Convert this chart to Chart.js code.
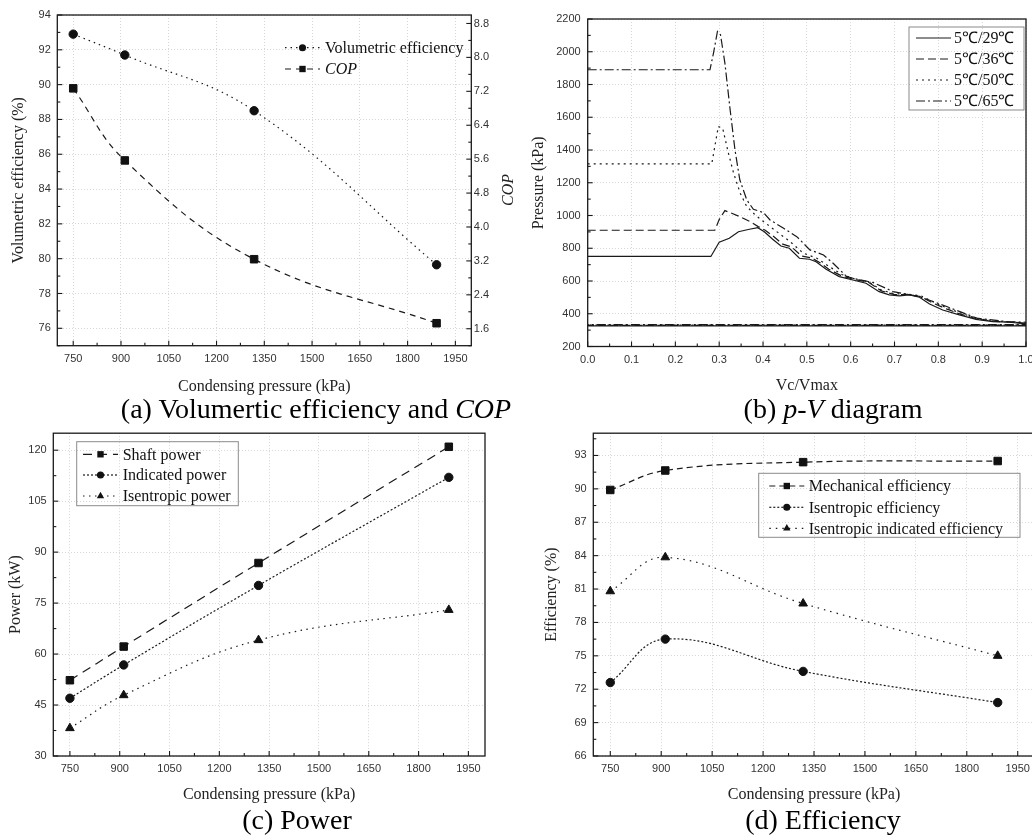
<!DOCTYPE html>
<html lang="en">
<head>
<meta charset="UTF-8">
<title>Compressor performance</title>
<script src="https://cdn.jsdelivr.net/npm/chart.js@4.4.0/dist/chart.umd.min.js"></script>
<style>
  html, body { margin: 0; padding: 0; background: #fff; overflow: hidden; }
  #fig { position: relative; width: 1032px; height: 837px; overflow: hidden; background: #fff; }
  canvas { position: absolute; }
  .cap { position: absolute; font-family: "Liberation Serif", "Times New Roman", serif; font-size: 28px;
         line-height: 28px; white-space: nowrap; transform: translateX(-50%); color: #000; }
</style>
</head>
<body>
<div id="fig">
  <canvas id="chartA"></canvas>
  <canvas id="chartB"></canvas>
  <canvas id="chartC"></canvas>
  <canvas id="chartD"></canvas>
  <div class="cap" style="left:316px;top:395px">(a) Volumertic efficiency and <i>COP</i></div>
  <div class="cap" style="left:833px;top:395px">(b) <i>p-V</i> diagram</div>
  <div class="cap" style="left:297px;top:806px">(c) Power</div>
  <div class="cap" style="left:823px;top:806px">(d) Efficiency</div>
</div>

<script>
// condensing pressure of the four operating points (kPa)
const condPressure = [750, 912, 1318, 1891];

// (a)
const volEff = [92.9, 91.7, 88.5, 79.65];
const cop = [7.27, 5.57, 3.24, 1.73];

// (c)
const shaftPower = [52.3, 62.2, 86.8, 121.0];
const indicatedPower = [47.0, 56.8, 80.2, 112.0];
const isentropicPower = [38.2, 47.9, 64.1, 73.0];

// (d)
const mechEff = [89.9, 91.65, 92.4, 92.5];
const isenEff = [72.6, 76.5, 73.6, 70.8];
const isenIndEff = [80.8, 83.85, 79.7, 75.0];

// (b) p-V loops: Vc/Vmax and pressure (kPa)
const pv29V = [0, 0.281, 0.292, 0.300, 0.323, 0.344, 0.369, 0.388, 0.403, 0.422, 0.441, 0.460, 0.483, 0.506, 0.521, 0.544, 0.574, 0.605, 0.635, 0.665, 0.688, 0.711, 0.734, 0.757, 0.780, 0.810, 0.848, 0.886, 0.924, 0.962, 0.996, 1.0, 1.0, 0];
const pv29P = [750, 750, 800, 837, 861, 901, 916, 926, 901, 855, 814, 800, 739, 733, 718, 672, 627, 606, 586, 535, 515, 509, 515, 501, 460, 423, 393, 366, 352, 348, 340, 338, 326, 326];
const pv36V = [0, 0.290, 0.300, 0.313, 0.330, 0.347, 0.370, 0.389, 0.405, 0.425, 0.445, 0.465, 0.488, 0.510, 0.530, 0.550, 0.580, 0.610, 0.640, 0.670, 0.700, 0.730, 0.760, 0.790, 0.820, 0.850, 0.890, 0.930, 0.970, 1.0, 1.0, 0];
const pv36P = [910, 910, 975, 1030, 1012, 993, 963, 932, 910, 870, 825, 808, 752, 742, 712, 672, 630, 608, 594, 540, 517, 518, 505, 462, 428, 398, 367, 353, 349, 342, 329, 329];
const pv50V = [0, 0.283, 0.298, 0.308, 0.321, 0.333, 0.348, 0.363, 0.382, 0.401, 0.431, 0.462, 0.492, 0.523, 0.550, 0.580, 0.610, 0.640, 0.670, 0.700, 0.730, 0.760, 0.790, 0.820, 0.850, 0.890, 0.930, 0.970, 1.0, 1.0, 0];
const pv50P = [1315, 1315, 1543, 1533, 1381, 1258, 1136, 1054, 1004, 963, 902, 840, 770, 739, 690, 640, 612, 596, 545, 522, 520, 510, 470, 435, 405, 370, 355, 350, 343, 331, 331];
const pv65V = [0, 0.279, 0.287, 0.296, 0.303, 0.313, 0.325, 0.336, 0.347, 0.363, 0.378, 0.401, 0.416, 0.447, 0.477, 0.507, 0.538, 0.560, 0.591, 0.606, 0.652, 0.697, 0.751, 0.785, 0.819, 0.888, 0.956, 1.0, 1.0, 0];
const pv65P = [1890, 1890, 1992, 2124, 2104, 1931, 1645, 1401, 1218, 1095, 1038, 1018, 973, 922, 871, 790, 759, 708, 627, 616, 590, 535, 508, 478, 444, 373, 352, 348, 333, 333];

// tick labels
const pressureTicks = [750, 900, 1050, 1200, 1350, 1500, 1650, 1800, 1950];
const volEffTicks = [76, 78, 80, 82, 84, 86, 88, 90, 92, 94];
const copTicks = [1.6, 2.4, 3.2, 4.0, 4.8, 5.6, 6.4, 7.2, 8.0, 8.8];
const powerTicks = [30, 45, 60, 75, 90, 105, 120];
const effTicks = [66, 69, 72, 75, 78, 81, 84, 87, 90, 93];
const volRatioTicks = [0, 0.1, 0.2, 0.3, 0.4, 0.5, 0.6, 0.7, 0.8, 0.9, 1.0];
const pvPressureTicks = [200, 400, 600, 800, 1000, 1200, 1400, 1600, 1800, 2000, 2200];

const INK = '#1a1a1a';
const pts = (xs, ys) => xs.map((x, i) => ({ x: x, y: ys[i] }));
const radiusFor = { circle: 4.2, rect: 5.3, triangle: 5 };

function series(label, xs, ys, dash, style, extra) {
  return Object.assign({
    label: label, data: pts(xs, ys), showLine: true,
    borderColor: INK, backgroundColor: INK, borderWidth: 1.2, borderDash: dash,
    pointStyle: style || 'circle', pointRadius: style ? radiusFor[style] : 0,
    pointBackgroundColor: '#111', pointBorderColor: '#111', pointBorderWidth: 1,
    tension: style ? 0.4 : 0
  }, extra || {});
}

function drawMark(ctx, style, x, y, r) {
  ctx.beginPath();
  if (style === 'circle') ctx.arc(x, y, r, 0, Math.PI * 2);
  else if (style === 'rect') { const s = r * Math.SQRT1_2; ctx.rect(x - s, y - s, 2 * s, 2 * s); }
  else { ctx.moveTo(x, y - r); ctx.lineTo(x + r * 0.866, y + r / 2); ctx.lineTo(x - r * 0.866, y + r / 2); ctx.closePath(); }
  ctx.fill();
}

// frame, inward major/minor ticks, legend and extra titles
const decor = {
  id: 'decor',
  afterDraw(chart, args, o) {
    const ctx = chart.ctx, a = chart.chartArea;
    ctx.save();
    ctx.strokeStyle = INK;
    ctx.lineWidth = 1.3;
    ctx.strokeRect(a.left, a.top, a.right - a.left, a.bottom - a.top);
    ctx.lineWidth = 1.1;
    Object.values(chart.scales).forEach(s => {
      const vals = s.ticks.map(t => t.value);
      const step = vals[1] - vals[0];
      const minor = vals.map(v => v - step / 2).concat([vals[vals.length - 1] + step / 2]);
      const tick = (v, len) => {
        if (v < s.min - 1e-9 || v > s.max + 1e-9) return;
        const p = s.getPixelForValue(v);
        ctx.beginPath();
        if (s.axis === 'x') { ctx.moveTo(p, a.bottom); ctx.lineTo(p, a.bottom - len); }
        else if (s.position === 'left') { ctx.moveTo(a.left, p); ctx.lineTo(a.left + len, p); }
        else { ctx.moveTo(a.right, p); ctx.lineTo(a.right - len, p); }
        ctx.stroke();
      };
      vals.forEach(v => tick(v, 5));
      minor.forEach(v => tick(v, 3));
    });

    const lg = o.legend;
    if (lg) {
      if (lg.frame) {
        ctx.strokeStyle = '#8a8a8a';
        ctx.lineWidth = 1;
        ctx.strokeRect(lg.frame[0], lg.frame[1], lg.frame[2], lg.frame[3]);
      }
      chart.data.datasets.forEach((ds, i) => {
        const y = lg.rows[i];
        ctx.strokeStyle = INK;
        ctx.lineWidth = ds.borderWidth;
        ctx.setLineDash(ds.borderDash || []);
        ctx.beginPath();
        ctx.moveTo(lg.x1, y);
        ctx.lineTo(lg.x2, y);
        ctx.stroke();
        ctx.setLineDash([]);
        if (ds.pointRadius > 0) {
          ctx.fillStyle = '#111';
          drawMark(ctx, ds.pointStyle, (lg.x1 + lg.x2) / 2, y, ds.pointRadius * 0.85);
        }
        ctx.fillStyle = '#111';
        ctx.font = (ds.italicLabel ? 'italic ' : '') + '16px "Liberation Serif", serif';
        ctx.textBaseline = 'middle';
        ctx.textAlign = 'left';
        ctx.fillText(ds.label, lg.tx, y + 1);
      });
    }
    if (o.sideTitle) {
      const t = o.sideTitle;
      ctx.translate(t.x, t.y);
      ctx.rotate(-Math.PI / 2);
      ctx.fillStyle = '#222';
      ctx.font = 'italic 16px "Liberation Serif", serif';
      ctx.textAlign = 'center';
      ctx.textBaseline = 'middle';
      ctx.fillText(t.text, 0, 0);
    }
    ctx.restore();
  }
};

function axis(spec, box, area) {
  const s = {
    type: 'linear',
    position: spec.position,
    min: spec.min,
    max: spec.max,
    afterBuildTicks: sc => { sc.ticks = spec.ticks.map(v => ({ value: v })); },
    ticks: {
      autoSkip: false, maxRotation: 0, minRotation: 0, padding: spec.pad,
      color: '#333', font: { family: 'Liberation Sans', size: 11 },
      callback: spec.fmt || (v => v)
    },
    grid: { display: !!spec.grid, drawOnChartArea: !!spec.grid, drawTicks: false, color: '#d6d6d6', lineWidth: 1 },
    border: { display: false, dash: [1, 2] },
    title: { display: false }
  };
  if (spec.position === 'bottom') {
    s.afterFit = sc => { sc.height = box.y + box.h - area.bottom; };
  } else if (spec.position === 'left') {
    s.afterFit = sc => { sc.width = area.left - box.x; };
  } else {
    s.afterFit = sc => { sc.width = box.x + box.w - area.right; };
  }
  if (spec.title) {
    const half = 16 * 1.2 / 2;
    s.title = {
      display: true, text: spec.title, color: '#222',
      font: { family: 'Liberation Serif', size: 16 },
      padding: spec.position === 'bottom'
        ? { top: 0, bottom: box.y + box.h - spec.titleAt - half }
        : { top: spec.titleAt - box.x - half, bottom: 0 }
    };
  }
  return s;
}

function makeChart(id, box, area, datasets, specs, legend, sideTitle) {
  const cv = document.getElementById(id);
  cv.width = box.w;
  cv.height = box.h;
  cv.style.left = box.x + 'px';
  cv.style.top = box.y + 'px';
  const scales = {};
  Object.keys(specs).forEach(k => { scales[k] = axis(specs[k], box, area); });
  const hasRight = Object.values(specs).some(sp => sp.position === 'right');
  // legend given in page coordinates, shift to canvas
  const lg = legend && {
    frame: legend.frame && [legend.frame[0] - box.x, legend.frame[1] - box.y, legend.frame[2], legend.frame[3]],
    rows: legend.rows.map(r => r - box.y),
    x1: legend.x1 - box.x, x2: legend.x2 - box.x, tx: legend.tx - box.x
  };
  const st = sideTitle && { text: sideTitle.text, x: sideTitle.x - box.x, y: sideTitle.y - box.y };
  return new Chart(cv, {
    type: 'scatter',
    data: { datasets: datasets },
    options: {
      responsive: false,
      animation: false,
      devicePixelRatio: 1,
      layout: { padding: { top: area.top - box.y, left: 0, bottom: 0, right: hasRight ? 0 : box.x + box.w - area.right } },
      scales: scales,
      plugins: {
        legend: { display: false },
        tooltip: { enabled: false },
        decor: { legend: lg, sideTitle: st }
      }
    },
    plugins: [decor]
  });
}

const fmt1 = v => v.toFixed(1);

// (a) volumetric efficiency and COP
makeChart('chartA', { x: 0, y: 0, w: 525, h: 398 }, { left: 57.3, top: 15, right: 471.3, bottom: 345.7 },
  [
    series('Volumetric efficiency', condPressure, volEff, [1.5, 4], 'circle'),
    series('COP', condPressure, cop, [6, 5], 'rect', { yAxisID: 'y1', italicLabel: true })
  ],
  {
    x: { position: 'bottom', min: 700, max: 2000, ticks: pressureTicks, pad: 6.4, grid: true, title: 'Condensing pressure (kPa)', titleAt: 387 },
    y: { position: 'left', min: 75, max: 94, ticks: volEffTicks, pad: 6.5, grid: true, title: 'Volumetric efficiency (%)', titleAt: 19 },
    y1: { position: 'right', min: 1.2, max: 9.0, ticks: copTicks, pad: 2.5, fmt: fmt1 }
  },
  { rows: [47.7, 69], x1: 285, x2: 320, tx: 325 },
  { text: 'COP', x: 509, y: 190 }
);

// (b) p-V diagram
makeChart('chartB', { x: 516, y: 0, w: 540, h: 398 }, { left: 587.7, top: 19, right: 1026, bottom: 346.5 },
  [
    series('5℃/29℃', pv29V, pv29P, []),
    series('5℃/36℃', pv36V, pv36P, [8, 4]),
    series('5℃/50℃', pv50V, pv50P, [2, 4]),
    series('5℃/65℃', pv65V, pv65P, [9, 3, 2, 3])
  ],
  {
    x: { position: 'bottom', min: 0, max: 1, ticks: volRatioTicks, pad: 6.4, grid: true, fmt: fmt1, title: 'Vc/Vmax', titleAt: 386 },
    y: { position: 'left', min: 200, max: 2200, ticks: pvPressureTicks, pad: 7, grid: true, title: 'Pressure (kPa)', titleAt: 539 }
  },
  { frame: [909, 27, 115, 83], rows: [38, 59, 80, 101], x1: 916, x2: 951, tx: 954 }
);

// (c) power
makeChart('chartC', { x: 0, y: 420, w: 516, h: 400 }, { left: 53.3, top: 428.3, right: 485, bottom: 756 },
  [
    series('Shaft power', condPressure, shaftPower, [9, 6], 'rect'),
    series('Indicated power', condPressure, indicatedPower, [2, 2], 'circle'),
    series('Isentropic power', condPressure, isentropicPower, [1.5, 4.5], 'triangle')
  ],
  {
    x: { position: 'bottom', min: 700, max: 2000, ticks: pressureTicks, pad: 6.4, grid: true, title: 'Condensing pressure (kPa)', titleAt: 795 },
    y: { position: 'left', min: 30, max: 125, ticks: powerTicks, pad: 6.6, grid: true, title: 'Power (kW)', titleAt: 16 }
  },
  { frame: [76.7, 441.7, 161.6, 64], rows: [454.3, 475, 496], x1: 83, x2: 118, tx: 122.7 }
);

// (d) efficiency
makeChart('chartD', { x: 516, y: 420, w: 540, h: 400 }, { left: 593.3, top: 427.3, right: 1034.7, bottom: 756 },
  [
    series('Mechanical efficiency', condPressure, mechEff, [6, 4], 'rect'),
    series('Isentropic efficiency', condPressure, isenEff, [2, 2], 'circle'),
    series('Isentropic indicated efficiency', condPressure, isenIndEff, [1.5, 5], 'triangle')
  ],
  {
    x: { position: 'bottom', min: 700, max: 2000, ticks: pressureTicks, pad: 6.4, grid: true, title: 'Condensing pressure (kPa)', titleAt: 795 },
    y: { position: 'left', min: 66, max: 95, ticks: effTicks, pad: 6.6, grid: true, title: 'Efficiency (%)', titleAt: 552 }
  },
  { frame: [758.7, 473.3, 261.3, 64], rows: [486, 507.3, 528.3], x1: 769.3, x2: 804.3, tx: 808.7 }
);
</script>
</body>
</html>
